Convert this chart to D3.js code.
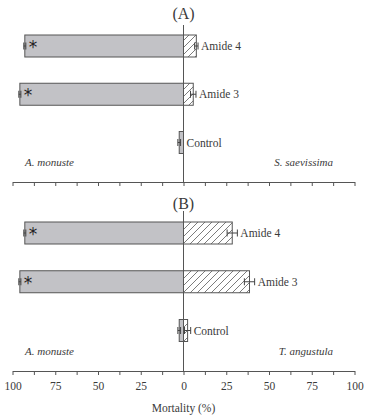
<!DOCTYPE html>
<html><head><meta charset="utf-8">
<script src="https://cdn.jsdelivr.net/npm/d3@7"></script>
<style>body{margin:0;background:#fff}svg{display:block}text{font-family:"Liberation Serif","DejaVu Serif",serif;fill:#3a3a3a}</style>
</head><body><svg id="c" width="370" height="420"></svg>
<script>
const categories = ["Amide 4", "Amide 3", "Control"];
const panels = ["(A)", "(B)"];
const leftSpecies = ["A. monuste", "A. monuste"];
const rightSpecies = ["S. saevissima", "T. angustula"];
// left side: A. monuste mortality (%)
const leftA = [92.8, 95.7, 2.5];
const leftAErr = [0.6, 0.6, 0.8];
const leftB = [92.8, 95.7, 2.5];
const leftBErr = [0.6, 0.6, 0.8];
// right side mortality (%)
const rightA = [7.5, 5.7, 0];
const rightAErr = [1.0, 1.6, 0];
const rightB = [28.5, 38.6, 2.4];
const rightBErr = [3.0, 3.0, 1.8];
const significant = [true, true, false];
const tickValues = [100, 75, 50, 25, 0, 25, 50, 75, 100];
const axisTitle = "Mortality (%)";

const svg = d3.select("#c");
const x = d3.scaleLinear().domain([-100, 100]).range([12.5, 354.5]);
const defs = svg.append("defs");
const pat = defs.append("pattern").attr("id", "hatch").attr("patternUnits", "userSpaceOnUse")
  .attr("width", 7).attr("height", 7);
pat.append("rect").attr("width", 7).attr("height", 7).attr("fill", "#fff");
pat.append("path").attr("d", "M-1,1 L1,-1 M0,7 L7,0 M6,8 L8,6").attr("stroke", "#444").attr("stroke-width", 0.7);

const panelDefs = [
  {title: panels[0], left: leftA, lerr: leftAErr, right: rightA, rerr: rightAErr, axisY: 182, titleY: 19, lineTop: 25, centers: [46, 142.5], spY: 166, labels: false, ls: leftSpecies[0], rs: rightSpecies[0]},
  {title: panels[1], left: leftB, lerr: leftBErr, right: rightB, rerr: rightBErr, axisY: 371, titleY: 209, lineTop: 211, centers: [233, 330.5], spY: 355, labels: true, ls: leftSpecies[1], rs: rightSpecies[1]}
];
const barH = 22;
const stroke = "#555";

panelDefs.forEach(p => {
  const g = svg.append("g");
  const y = d3.scalePoint().domain(categories).range(p.centers);
  g.append("text").attr("x", x(0)).attr("y", p.titleY).attr("text-anchor", "middle")
    .style("font-size", "16px").text(p.title);

  g.selectAll(".lb").data(categories).join("rect")
    .attr("x", (d, i) => x(-p.left[i])).attr("y", d => y(d) - barH / 2)
    .attr("width", (d, i) => x(0) - x(-p.left[i])).attr("height", barH)
    .attr("fill", "#c2c2c6").attr("stroke", stroke).attr("stroke-width", 1);
  g.selectAll(".rb").data(categories).join("rect")
    .attr("x", x(0)).attr("y", d => y(d) - barH / 2)
    .attr("width", (d, i) => x(p.right[i]) - x(0)).attr("height", barH)
    .attr("fill", "url(#hatch)").attr("stroke", stroke).attr("stroke-width", 1)
    .style("display", (d, i) => p.right[i] > 0 ? null : "none");

  const errs = [];
  categories.forEach((c, i) => {
    errs.push({c, lo: -p.left[i] - p.lerr[i], hi: -p.left[i] + p.lerr[i]});
    if (p.rerr[i] > 0) errs.push({c, lo: p.right[i] - p.rerr[i], hi: p.right[i] + p.rerr[i]});
  });
  const eg = g.selectAll(".eb").data(errs).join("g").attr("stroke", "#444").attr("stroke-width", 1);
  eg.append("line").attr("x1", d => x(d.lo)).attr("x2", d => x(d.hi)).attr("y1", d => y(d.c)).attr("y2", d => y(d.c));
  eg.append("line").attr("x1", d => x(d.lo)).attr("x2", d => x(d.lo)).attr("y1", d => y(d.c) - 3.5).attr("y2", d => y(d.c) + 3.5);
  eg.append("line").attr("x1", d => x(d.hi)).attr("x2", d => x(d.hi)).attr("y1", d => y(d.c) - 3.5).attr("y2", d => y(d.c) + 3.5);

  g.selectAll(".st").data(categories).join("text")
    .filter((d, i) => significant[i])
    .attr("x", d => x(-p.left[categories.indexOf(d)]) + 4).attr("y", d => y(d) + 7)
    .style("font-size", "17px").style("font-family", "DejaVu Sans, sans-serif").style("fill", "#222").text("*");

  g.selectAll(".cl").data(categories).join("text")
    .attr("x", (d, i) => Math.max(x(p.right[i]), x(p.right[i] + p.rerr[i])) + 3)
    .attr("y", d => y(d) + 4).style("font-size", "11.5px").text(d => d);

  g.append("text").attr("x", 25).attr("y", p.spY).style("font-size", "11px").style("font-style", "italic").text(p.ls);
  g.append("text").attr("x", 333).attr("y", p.spY).attr("text-anchor", "end").style("font-size", "11px").style("font-style", "italic").text(p.rs);

  g.append("line").attr("x1", x(0)).attr("x2", x(0)).attr("y1", p.lineTop).attr("y2", p.axisY).attr("stroke", stroke).attr("stroke-width", 1);

  const ax = d3.axisBottom(x).tickValues(d3.range(-100, 101, 12.5)).tickSize(4).tickSizeOuter(0)
    .tickFormat(d => (p.labels && d % 25 === 0) ? tickValues[(d + 100) / 25] : "");
  const a = g.append("g").attr("transform", `translate(0,${p.axisY})`).call(ax);
  a.select(".domain").attr("stroke", stroke);
  a.selectAll(".tick line").attr("stroke", stroke);
  a.selectAll(".tick text").style("font-family", "Liberation Serif, serif").style("font-size", "11.5px").attr("fill", "#3a3a3a").attr("dy", "1em");
});

svg.append("text").attr("x", x(0)).attr("y", 412).attr("text-anchor", "middle").style("font-size", "11.5px").text(axisTitle);
</script></body></html>
